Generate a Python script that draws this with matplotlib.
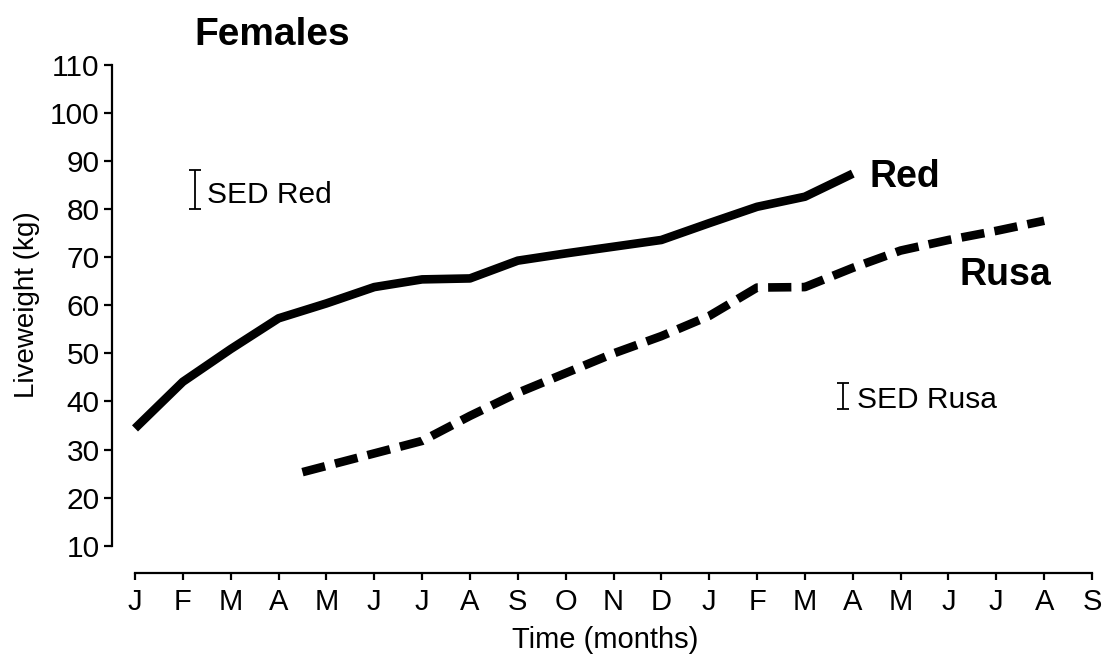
import numpy as np
import matplotlib
matplotlib.use("Agg")
import matplotlib.pyplot as plt

plt.rcParams['font.family'] = ['Liberation Sans', 'DejaVu Sans']

# month labels, Jan of year 1 through Sep of year 2
months = ['J', 'F', 'M', 'A', 'M', 'J', 'J', 'A', 'S', 'O', 'N', 'D',
          'J', 'F', 'M', 'A', 'M', 'J', 'J', 'A', 'S']

# Red deer females, monthly liveweight (kg)
red_t = [0, 1, 2, 3, 4, 5, 6, 7, 8, 9, 10, 11, 12, 13, 14, 15]
red_w = [34.4, 44.1, 50.9, 57.3, 60.4, 63.8, 65.4, 65.6, 69.3, 70.8,
         72.2, 73.6, 77.1, 80.5, 82.6, 87.4]

# Rusa deer females, first weighed mid-April
rusa_t = [3.5, 5, 6, 7, 8, 9, 10, 11, 12, 13, 14, 15, 16, 17, 18, 19]
rusa_w = [25.3, 29.2, 31.8, 37.0, 41.8, 45.9, 50.0, 53.6, 57.8, 63.7,
          63.8, 67.8, 71.4, 73.6, 75.5, 77.6]

# standard error of difference bars (low, high)
sed_red = (80.0, 88.2)
sed_rusa = (38.4, 43.8)

fig = plt.figure(figsize=(11.06, 6.58), dpi=100)
ax = fig.add_axes([112 / 1106, 85 / 658, 988 / 1106, 508 / 658])

ax.plot(red_t, red_w, color='black', lw=6.2, solid_capstyle='butt',
        solid_joinstyle='round')
ax.plot(rusa_t, rusa_w, color='black', lw=6.2, dashes=(2.7, 1.2),
        dash_capstyle='butt', dash_joinstyle='round')

for x, (lo, hi) in [(1.25, sed_red), (14.79, sed_rusa)]:
    ax.errorbar([x], [(lo + hi) / 2], yerr=[(hi - lo) / 2], fmt='none',
                ecolor='black', elinewidth=1.3, capsize=4, capthick=1.3)

ax.text(1.50, 81.2, 'SED Red', fontsize=21.5, va='baseline', ha='left')
ax.text(15.08, 38.6, 'SED Rusa', fontsize=21.5, va='baseline', ha='left')
ax.text(15.36, 84.7, 'Red', fontsize=27, fontweight='bold',
        va='baseline', ha='left')
ax.text(17.24, 64.2, 'Rusa', fontsize=27, fontweight='bold',
        va='baseline', ha='left')

ax.set_xlim(-0.4807, 20.167)
ax.set_ylim(4.32, 110)

ax.set_xticks(range(len(months)))
ax.set_xticklabels(months)
ax.set_yticks(np.arange(10, 111, 10))

for s in ['top', 'right']:
    ax.spines[s].set_visible(False)
ax.spines['left'].set_bounds(10, 110)
ax.spines['bottom'].set_bounds(0, 20)
for s in ['left', 'bottom']:
    ax.spines[s].set_linewidth(1.6)

ax.tick_params(axis='y', direction='out', length=6, width=1.6,
               labelsize=21.5, pad=3)
ax.tick_params(axis='x', direction='out', length=5, width=1.6,
               labelsize=21, pad=6)

fig.text(194 / 1106, 1 - 45 / 658, 'Females', fontsize=28,
         fontweight='bold', va='baseline', ha='left')
fig.text(605 / 1106, 1 - 648 / 658, 'Time (months)', fontsize=21,
         va='baseline', ha='center')
fig.text(27 / 1106, 1 - 305 / 658, 'Liveweight (kg)', fontsize=20,
         rotation=90, va='center', ha='center')

fig.savefig('out.png', dpi=100)
